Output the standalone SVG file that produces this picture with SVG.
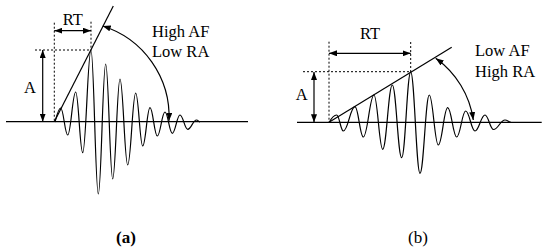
<svg xmlns="http://www.w3.org/2000/svg" width="550" height="250" viewBox="0 0 550 250">
<style>
.ln{fill:none;stroke:#000;stroke-width:1.2}
.wv{fill:none;stroke:#000;stroke-width:1.2;stroke-linejoin:round}
.ds{fill:none;stroke:#000;stroke-width:1;stroke-dasharray:2,2}
.ar{fill:none;stroke:#000;stroke-width:1.2;marker-start:url(#ah);marker-end:url(#ah)}
.t{font-family:'Liberation Serif','DejaVu Serif',serif;font-size:16.5px;fill:#000}
.lab{font-family:'Liberation Serif','DejaVu Serif',serif;font-size:17px;fill:#000}
</style>
<defs>
<marker id="ah" viewBox="0 0 8 6" refX="8" refY="3" markerWidth="8" markerHeight="6" markerUnits="userSpaceOnUse" orient="auto-start-reverse">
<path d="M0,0 L8,3 L0,6 z" fill="#000"/>
</marker>
</defs>
<rect width="550" height="250" fill="#fff"/>
<g id="panel-a">
<line class="ln" x1="6" y1="121.7" x2="248" y2="121.7"/>
<line class="ln" x1="54.3" y1="121.7" x2="113.3" y2="6"/>
<line class="ds" x1="54.3" y1="22.7" x2="54.3" y2="121.7"/>
<line class="ds" x1="91" y1="21.7" x2="91" y2="50"/>
<line class="ds" x1="35" y1="50" x2="91" y2="50"/>
<path class="wv" d="M55,122 C56.5,117 58.4,108 60.7,108 C63.5,108 64.9,135 67.7,135 C70.9,135 72.5,92 75.7,92 C78.5,92 79.9,152.7 82.7,152.7 C86,152.7 87.7,50 91,50 C93.9,50 95.4,194 98.3,194 C101.3,194 102.7,64 105.7,64 C108.5,64 109.9,179 112.7,179 C115.6,179 117.1,79 120,79 C123.1,79 124.6,165 127.7,165 C130.9,165 132.5,93 135.7,93 C138.5,93 139.9,146 142.7,146 C145.6,146 147.1,107.7 150,107.7 C152.9,107.7 154.4,136 157.3,136 C160.4,136 161.9,112 165,112 C167.9,112 169.4,133.3 172.3,133.3 C175.4,133.3 176.9,115 180,115 C183.1,115 184.6,129.3 187.7,129.3 C191.2,129.3 193,120 196.5,120 C198,120 199,122 200,122"/>
<text class="t" x="72.7" y="25" text-anchor="middle">RT</text>
<text class="t" x="30" y="92.7" text-anchor="middle">A</text>
<text class="t" x="152" y="37.3">High AF</text>
<text class="t" x="152" y="57.3">Low RA</text>
<text class="lab" x="126" y="242.5" text-anchor="middle" font-weight="bold">(a)</text>
</g>
<g id="panel-b">
<line class="ln" x1="297" y1="122.3" x2="541.7" y2="122.3"/>
<line class="ln" x1="329" y1="122.3" x2="451.7" y2="47.3"/>
<line class="ds" x1="329" y1="41.7" x2="329" y2="122.3"/>
<line class="ds" x1="410.7" y1="42" x2="410.7" y2="72"/>
<line class="ds" x1="303" y1="71.7" x2="410.7" y2="71.7"/>
<path class="wv" d="M329.3,122.3 C331.5,118 333.8,115 336.7,115 C339.3,115 340.7,131 343.3,131 C348,131 350.3,106.7 355,106.7 C358.3,106.7 360,137 363.3,137 C367.6,137 369.7,95 374,95 C377.5,95 379.2,149.3 382.7,149.3 C386.5,149.3 388.5,85 392.3,85 C396.1,85 397.9,157.7 401.7,157.7 C405.3,157.7 407.1,72 410.7,72 C414.4,72 416.3,173.3 420,173.3 C423.7,173.3 425.6,95 429.3,95 C432.9,95 434.7,145 438.3,145 C442.1,145 443.9,107.7 447.7,107.7 C451.3,107.7 453.1,137 456.7,137 C460.3,137 462.1,111 465.7,111 C469.4,111 471.3,131 475,131 C479,131 481,115 485,115 C488.4,115 490.1,129.5 493.5,129.5 C498.1,129.5 500.4,120 505,120 C507.5,120 509,122.3 511,122.3"/>
<text class="t" x="370" y="39.3" text-anchor="middle">RT</text>
<text class="t" x="301.7" y="100" text-anchor="middle">A</text>
<text class="t" x="475" y="56">Low AF</text>
<text class="t" x="475" y="77">High RA</text>
<text class="lab" x="418" y="242.5" text-anchor="middle">(b)</text>
</g>
<g id="connectors">
<path class="ar" d="M54.3,30.7 H91"/>
<path class="ar" d="M42.7,50 V121.7"/>
<path class="ar" d="M102.7,26 A95 95 0 0 1 169,120.7"/>
<path class="ar" d="M329,53.3 H410.7"/>
<path class="ar" d="M314,72 V122.3"/>
<path class="ar" d="M435.7,58.3 A92 92 0 0 1 473.3,120"/>
</g>
</svg>
